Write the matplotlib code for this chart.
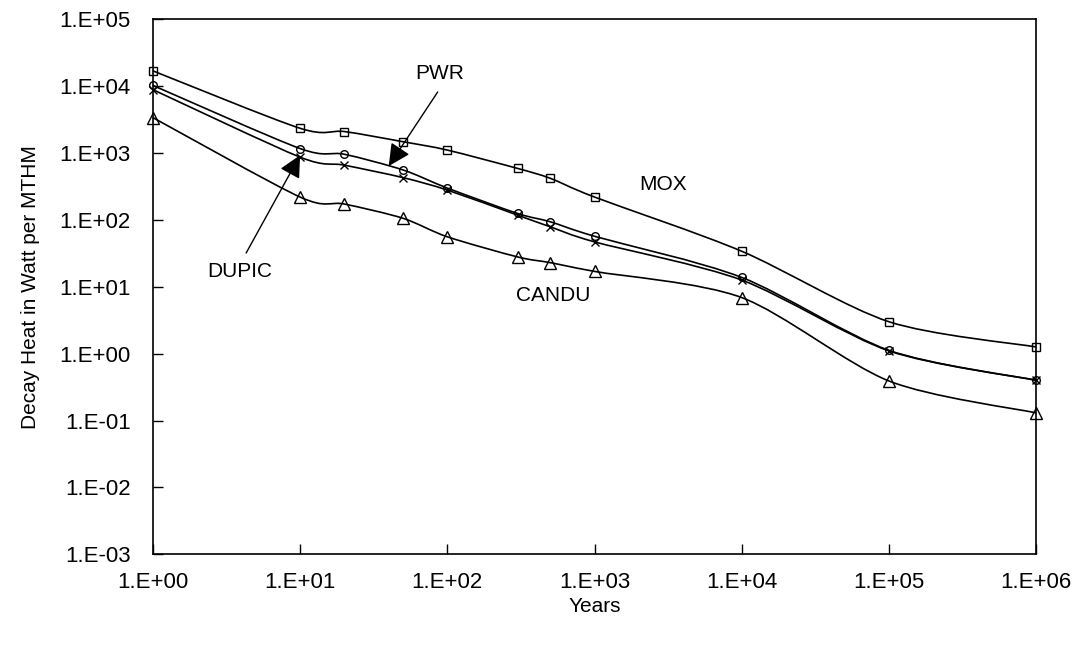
import numpy as np
import matplotlib
matplotlib.use("Agg")
import matplotlib.pyplot as plt
from matplotlib.path import Path
from matplotlib.patches import PathPatch
from matplotlib.ticker import FixedLocator, FixedFormatter

# =======================================================
# DATA
# =======================================================
years = [1, 10, 20, 50, 100, 300, 500, 1000, 1e4, 1e5, 1e6]

mox   = [1.7e4, 2.35e3, 2.1e3, 1.48e3, 1.11e3, 5.9e2, 4.2e2, 2.2e2, 34.0, 3.0, 1.26]
pwr   = [1.03e4, 1.17e3, 9.6e2, 5.6e2, 3.0e2, 1.25e2, 94.0, 57.0, 13.8, 1.12, 0.40]
dupic = [8.9e3, 8.7e2, 6.6e2, 4.3e2, 2.8e2, 1.18e2, 79.0, 47.0, 12.6, 1.10, 0.40]
candu = [3.4e3, 2.2e2, 1.73e2, 1.06e2, 56.0, 28.0, 23.0, 17.0, 6.9, 0.39, 0.13]

SERIES = [
    ("MOX",   mox,   "s", 5.5),
    ("PWR",   pwr,   "o", 5.5),
    ("DUPIC", dupic, "x", 5.5),
    ("CANDU", candu, "^", 8.0),
]

y_ticks  = [1e-3, 1e-2, 1e-1, 1e0, 1e1, 1e2, 1e3, 1e4, 1e5]
y_labels = ["1.E-03", "1.E-02", "1.E-01", "1.E+00", "1.E+01",
            "1.E+02", "1.E+03", "1.E+04", "1.E+05"]
x_ticks  = [1e0, 1e1, 1e2, 1e3, 1e4, 1e5, 1e6]
x_labels = ["1.E+00", "1.E+01", "1.E+02", "1.E+03", "1.E+04", "1.E+05", "1.E+06"]

# =======================================================
# Style
# =======================================================
plt.rcParams.update({
    'font.family': ['Liberation Sans', 'DejaVu Sans'],
    'font.size': 15,
})
TICK_FS = 16
TEXT_FS = 15


def smooth_path(xs, ys, tension=1 / 6):
    """Excel-like smoothed line: cubic Bezier through the points, built in log space."""
    lx = np.log10(xs)
    ly = np.log10(ys)
    n = len(lx)
    verts = [(xs[0], ys[0])]
    codes = [Path.MOVETO]
    for i in range(n - 1):
        p0 = (lx[max(i - 1, 0)], ly[max(i - 1, 0)])
        p1 = (lx[i], ly[i])
        p2 = (lx[i + 1], ly[i + 1])
        p3 = (lx[min(i + 2, n - 1)], ly[min(i + 2, n - 1)])
        c1 = (p1[0] + (p2[0] - p0[0]) * tension, p1[1] + (p2[1] - p0[1]) * tension)
        c2 = (p2[0] - (p3[0] - p1[0]) * tension, p2[1] - (p3[1] - p1[1]) * tension)
        for c in (c1, c2, p2):
            verts.append((10 ** c[0], 10 ** c[1]))
        codes += [Path.CURVE4] * 3
    return Path(verts, codes)


fig = plt.figure(figsize=(10.84, 6.46), dpi=100)
ax = fig.add_axes([0.141, 0.142, 0.815, 0.828])
ax.set_xscale('log')
ax.set_yscale('log')
ax.set_xlim(1, 1e6)
ax.set_ylim(1e-3, 1e5)

for name, vals, marker, ms in SERIES:
    ax.add_patch(PathPatch(smooth_path(years, vals, tension=0.14), facecolor='none',
                           edgecolor='black', linewidth=1.2, clip_on=False))
    ax.plot(years, vals, linestyle='none', marker=marker, markersize=ms,
            markerfacecolor='none', markeredgecolor='black',
            markeredgewidth=1.0, clip_on=False, zorder=3)

ax.xaxis.set_major_locator(FixedLocator(x_ticks))
ax.xaxis.set_major_formatter(FixedFormatter(x_labels))
ax.yaxis.set_major_locator(FixedLocator(y_ticks))
ax.yaxis.set_major_formatter(FixedFormatter(y_labels))
ax.minorticks_off()
ax.tick_params(axis='both', which='major', direction='in', length=7,
               width=1.0, labelsize=TICK_FS)
ax.tick_params(axis='y', pad=16)
ax.tick_params(axis='x', pad=13)

for sp in ax.spines.values():
    sp.set_linewidth(1.2)

ax.set_xlabel("Years", fontsize=TEXT_FS, labelpad=3)
ax.set_ylabel("Decay Heat in Watt per MTHM", fontsize=TEXT_FS, labelpad=14)

# series labels and arrows
ax.text(89, 1.57e4, "PWR", ha='center', va='center', fontsize=TEXT_FS)
ax.text(2.9e3, 3.4e2, "MOX", ha='center', va='center', fontsize=TEXT_FS)
ax.text(5.2e2, 7.5, "CANDU", ha='center', va='center', fontsize=TEXT_FS)
ax.text(3.9, 17.2, "DUPIC", ha='center', va='center', fontsize=TEXT_FS)

arrow = dict(arrowstyle='-|>,head_length=0.9,head_width=0.45', color='black',
             lw=1.0, shrinkA=0, shrinkB=0)
ax.annotate("", xy=(40, 640), xytext=(86, 8.2e3), arrowprops=arrow)
ax.annotate("", xy=(10, 930), xytext=(4.3, 32), arrowprops=arrow)

fig.savefig("out.png", dpi=100)
